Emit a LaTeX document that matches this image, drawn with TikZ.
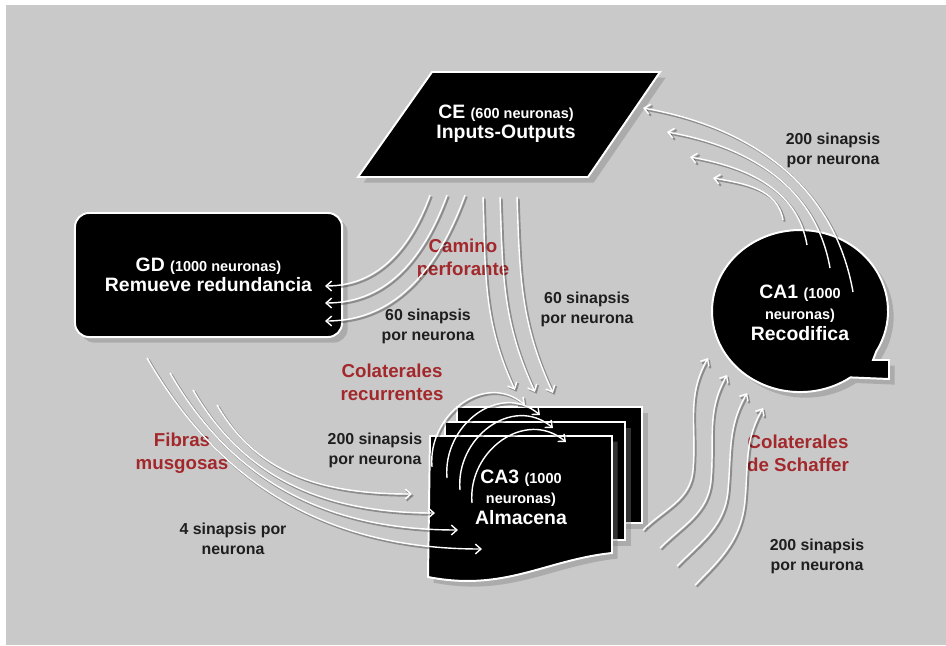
\documentclass[tikz,border=0pt]{standalone}
\usepackage{fontspec}
\setmainfont{Liberation Sans}
\usetikzlibrary{arrows.meta,calc,shadows}
\definecolor{fondo}{HTML}{C9C9C9}
\definecolor{rojo}{HTML}{A3282C}
\definecolor{tinta}{HTML}{1E1E1E}
\newcommand{\chico}[1]{{\fontsize{10.3}{11}\selectfont #1}}
\begin{document}
\begin{tikzpicture}
  [x=0.025cm, y=-0.025cm,
    region/.style={%
      draw=white, line width=1.4pt, fill=black,
      drop shadow={shadow xshift=4pt, shadow yshift=-4pt, opacity=0.4}
    },
    titulo/.style={%
      text=white, align=center, font=\bfseries\fontsize{13.8}{14.5}\selectfont
    },
    via/.style={%
      text=rojo, align=center, font=\bfseries\fontsize{13.3}{16.3}\selectfont
    },
    dato/.style={%
      text=tinta, align=center, font=\bfseries\fontsize{11.3}{14.2}\selectfont
    },
    fibra/.style={%
      draw=white, line width=1pt, -{Straight Barb[length=4pt,width=7pt]},
      preaction={draw=black, opacity=0.3, line width=1.4pt,
        transform canvas={shift={(1.2pt,-1.2pt)}}}
    },
  ]

  \fill[white] (0,0) rectangle (946,645);
  \useasboundingbox (0,0) rectangle (946,645);
  \fill[fondo] (6,5) rectangle (946,645);

  \draw[region] (358,177) -- (432,72) -- (660,72) -- (588,177) -- cycle;
  \node[titulo] (ce) at (506,124) {CE \chico{(600 neuronas)}\\Inputs-Outputs};

  \node[region, titulo, rounded corners=10pt, minimum width=6.675cm,
    minimum height=3.1cm] (gd) at (208.5,275)
    {GD \chico{(1000 neuronas)}\\Remueve redundancia};

  \draw[region] (850.5,377.4) arc[start angle=55, end angle=390, x radius=88,
    y radius=81] -- (873,360) -- (889,360) -- (889,379) -- cycle;
  \node[titulo, font=\bfseries\fontsize{13.8}{15}\selectfont] (ca1) at (800,313)
    {CA1 \chico{(1000}\\\chico{neuronas)}\\Recodifica};

  \node[region, minimum width=4.625cm, minimum height=2.9cm] (ca3b) at (549.5,465) {};
  \node[region, minimum width=4.5cm, minimum height=2.95cm] (ca3m) at (535,481) {};
  \draw[region] (430,436) -- (612,436) -- (612,553)
    .. controls (545,560) and (505,592) .. (428,577) -- cycle;
  \node[titulo] (ca3) at (521,497) {CA3 \chico{(1000}\\\chico{neuronas)}\\Almacena};

  \node[via] (camino) at (463,259) {Camino\\perforante};
  \node[dato] (dcamgd) at (428,326) {60 sinapsis\\por neurona};
  \node[dato] (dcamca3) at (587,309) {60 sinapsis\\por neurona};
  \node[dato] (dca1) at (833,150) {200 sinapsis\\por neurona};
  \node[via] (recur) at (392,382) {Colaterales\\recurrentes};
  \node[dato] (drecur) at (375,450) {200 sinapsis\\por neurona};
  \node[via] (musgo) at (182,453) {Fibras\\musgosas};
  \node[dato] (dmusgo) at (233,539) {4 sinapsis por\\neurona};
  \node[via] (schaf) at (798,453) {Colaterales\\de Schaffer};
  \node[dato] (dschaf) at (817,556) {200 sinapsis\\por neurona};

  \foreach \tx/\ty/\hx/\hy in {53/-21/137/-16, 30/-45/161/8, 7/-68/184/33, -17/-93/207/54}
    \draw[fibra] ($(ca1)+(\tx,\ty)$) to[out=100,in=-10] ($(ce)+(\hx,\hy)$);

  \foreach \tx/\hy in {-76/11, -59/28, -41/46}
    \draw[fibra] ($(ce)+(\tx,71)$) to[out=-110,in=0] ($(gd)+(116.5,\hy)$);

  \foreach \tx/\hx/\hy in {-23/-6/-107, -6/14/-105, 11/32/-104}
    \draw[fibra] ($(ce)+(\tx,73)$) to[out=-88,in=115] ($(ca3)+(\hx,\hy)$);

  \foreach \tx/\ty/\hx/\hy in {-61.5/83/-39/52, -38.5/98/-63/33, -15.5/115/-86/16, 8.5/130/-109/-3}
    \draw[fibra] ($(gd)+(\tx,\ty)$) to[out=-60,in=180] ($(ca3)+(\hx,\hy)$);

  \foreach \tx/\ty/\hx/\hy in {-89/-30/4/-92, -74/-19/19/-82, -61/-7/32/-69, -49/6/45/-55}
    \draw[fibra] ($(ca3)+(\tx,\ty)$) to[out=95,in=140,looseness=1.2] ($(ca3)+(\hx,\hy)$);

  \foreach \tx/\ty/\mx/\my/\hx/\hy in {122/33/172/-27/-92/45, 139/51/190/-17/-73/62,
      156/69/207/-7/-53/80, 174/88/224/3/-37/95}
    \draw[fibra] ($(ca3)+(\tx,\ty)$) to[out=45,in=-95] ($(ca3)+(\mx,\my)$)
      to[out=85,in=-120] ($(ca1)+(\hx,\hy)$);

\end{tikzpicture}
\end{document}
